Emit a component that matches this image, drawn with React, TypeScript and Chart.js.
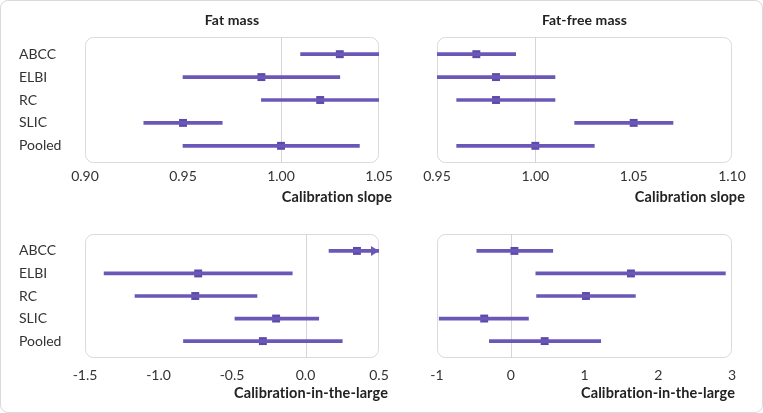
import React, { useEffect, useRef } from "react";
import { Chart, registerables } from "chart.js";

Chart.register(...registerables);

const categories = ["ABCC", "ELBI", "RC", "SLIC", "Pooled"];

const fatSlopeEst = [1.03, 0.99, 1.02, 0.95, 1.0];
const fatSlopeLow = [1.01, 0.95, 0.99, 0.93, 0.95];
const fatSlopeHigh = [1.05, 1.03, 1.05, 0.97, 1.04];

const ffSlopeEst = [0.97, 0.98, 0.98, 1.05, 1.0];
const ffSlopeLow = [0.95, 0.95, 0.96, 1.02, 0.96];
const ffSlopeHigh = [0.99, 1.01, 1.01, 1.07, 1.03];

const fatCitlEst = [0.35, -0.73, -0.75, -0.2, -0.29];
const fatCitlLow = [0.16, -1.37, -1.16, -0.48, -0.83];
const fatCitlHigh = [0.6, -0.09, -0.33, 0.09, 0.25];

const ffCitlEst = [0.05, 1.63, 1.02, -0.36, 0.46];
const ffCitlLow = [-0.46, 0.34, 0.35, -0.97, -0.29];
const ffCitlHigh = [0.57, 2.91, 1.69, 0.24, 1.22];

const fatSlopeTicks = [0.9, 0.95, 1.0, 1.05];
const ffSlopeTicks = [0.95, 1.0, 1.05, 1.1];
const fatCitlTicks = [-1.5, -1.0, -0.5, 0.0, 0.5];
const ffCitlTicks = [-1, 0, 1, 2, 3];

const LINE = "#6b58b6";
const MARK = "#5d49a9";
const BOX = "#d9d9de";
const REF = "#d4d4da";
const FONT = "Lato, 'Open Sans', sans-serif";

type PanelCfg = {
  x: number; y: number; w: number; h: number;
  area: { l: number; t: number; r: number; b: number };
  title?: string; titleY?: number;
  axisTitle: string; axisRight: number; axisY: number;
  tickPad: number; showLabels: boolean; ref: number;
  ticks: number[]; decimals: number;
  est: number[]; low: number[]; high: number[];
};

const panels: PanelCfg[] = [
  {
    x: 0, y: 0, w: 400, h: 210, area: { l: 85, t: 37, r: 379, b: 163 },
    title: "Fat mass", titleY: 20, axisTitle: "Calibration slope", axisRight: 392, axisY: 197,
    tickPad: 5, showLabels: true, ref: 1, ticks: fatSlopeTicks, decimals: 2,
    est: fatSlopeEst, low: fatSlopeLow, high: fatSlopeHigh,
  },
  {
    x: 400, y: 0, w: 363, h: 210, area: { l: 437, t: 37, r: 732, b: 163 },
    title: "Fat-free mass", titleY: 20, axisTitle: "Calibration slope", axisRight: 745, axisY: 197,
    tickPad: 5, showLabels: false, ref: 1, ticks: ffSlopeTicks, decimals: 2,
    est: ffSlopeEst, low: ffSlopeLow, high: ffSlopeHigh,
  },
  {
    x: 0, y: 210, w: 400, h: 203, area: { l: 85, t: 234, r: 379, b: 358 },
    axisTitle: "Calibration-in-the-large", axisRight: 388, axisY: 393,
    tickPad: 9, showLabels: true, ref: 0, ticks: fatCitlTicks, decimals: 1,
    est: fatCitlEst, low: fatCitlLow, high: fatCitlHigh,
  },
  {
    x: 400, y: 210, w: 363, h: 203, area: { l: 437, t: 234, r: 732, b: 358 },
    axisTitle: "Calibration-in-the-large", axisRight: 735, axisY: 393,
    tickPad: 9, showLabels: false, ref: 0, ticks: ffCitlTicks, decimals: 0,
    est: ffCitlEst, low: ffCitlLow, high: ffCitlHigh,
  },
];

function Panel({ cfg }: { cfg: PanelCfg }) {
  const ref = useRef<HTMLCanvasElement | null>(null);
  useEffect(() => {
    if (!ref.current) return;
    const a = cfg.area;
    const padLeft = cfg.showLabels ? 19 - cfg.x : a.l - cfg.x;
    const xmin = cfg.ticks[0];
    const xmax = cfg.ticks[cfg.ticks.length - 1];

    const deco = {
      id: "deco",
      beforeDraw(chart: any) {
        const { ctx, chartArea: ca } = chart;
        ctx.save();
        ctx.strokeStyle = BOX;
        ctx.lineWidth = 1;
        ctx.beginPath();
        (ctx as any).roundRect(ca.left + 0.5, ca.top + 0.5, ca.right - ca.left - 1, ca.bottom - ca.top - 1, 8);
        ctx.stroke();
        const rx = Math.round(chart.scales.x.getPixelForValue(cfg.ref)) + 0.5;
        ctx.strokeStyle = REF;
        ctx.beginPath();
        ctx.moveTo(rx, ca.top);
        ctx.lineTo(rx, ca.bottom);
        ctx.stroke();
        ctx.restore();
      },
      afterDatasetsDraw(chart: any) {
        const { ctx, chartArea: ca } = chart;
        ctx.save();
        ctx.fillStyle = LINE;
        cfg.high.forEach((hv, i) => {
          if (hv > xmax) {
            const py = chart.scales.y.getPixelForValue(i);
            ctx.beginPath();
            ctx.moveTo(ca.right, py);
            ctx.lineTo(ca.right - 8, py - 5);
            ctx.lineTo(ca.right - 8, py + 5);
            ctx.closePath();
            ctx.fill();
          }
        });
        ctx.restore();
      },
      afterDraw(chart: any) {
        const { ctx, chartArea: ca } = chart;
        ctx.save();
        try { (ctx as any).letterSpacing = "0.1px"; } catch (e) {}
        ctx.fillStyle = "#222";
        ctx.textBaseline = "middle";
        if (cfg.title) {
          ctx.font = `bold 14px ${FONT}`;
          ctx.textAlign = "center";
          ctx.fillText(cfg.title, (ca.left + ca.right) / 2, cfg.titleY! - cfg.y);
        }
        ctx.font = `bold 14.5px ${FONT}`;
        ctx.textAlign = "right";
        ctx.fillText(cfg.axisTitle, cfg.axisRight - cfg.x, cfg.axisY - cfg.y);
        ctx.restore();
      },
    };

    const chart = new Chart(ref.current, {
      type: "bar",
      data: {
        datasets: [
          {
            type: "bar",
            indexAxis: "y",
            data: categories.map((_, i) => ({ x: [cfg.low[i], cfg.high[i]], y: i })) as any,
            backgroundColor: LINE,
            borderWidth: 0,
            barThickness: 3,
            grouped: false,
          } as any,
          {
            type: "scatter",
            data: categories.map((_, i) => ({ x: cfg.est[i], y: i })),
            pointStyle: "rect",
            pointRadius: 5.6,
            backgroundColor: MARK,
            borderWidth: 0,
          } as any,
        ],
      },
      options: {
        responsive: false,
        animation: false,
        indexAxis: "y",
        layout: {
          padding: { top: a.t - cfg.y, left: padLeft, right: cfg.x + cfg.w - a.r, bottom: 0 },
        },
        plugins: { legend: { display: false }, tooltip: { enabled: false }, title: { display: false } },
        scales: {
          x: {
            type: "linear",
            position: "bottom",
            min: xmin,
            max: xmax,
            offset: false,
            grid: { display: false, drawTicks: false },
            border: { display: false },
            afterBuildTicks: (s: any) => { s.ticks = cfg.ticks.map((v) => ({ value: v })); },
            afterFit: (s: any) => { s.height = cfg.y + cfg.h - a.b; },
            ticks: {
              padding: cfg.tickPad,
              color: "#333",
              font: { family: FONT, size: 14 },
              maxRotation: 0,
              autoSkip: false,
              callback: (v: any) => Number(v).toFixed(cfg.decimals),
            },
          },
          y: {
            type: "linear",
            display: cfg.showLabels,
            reverse: true,
            min: -0.75,
            max: 4.75,
            offset: false,
            grid: { display: false, drawTicks: false },
            border: { display: false },
            afterBuildTicks: (s: any) => { s.ticks = categories.map((_, i) => ({ value: i })); },
            afterFit: (s: any) => { if (cfg.showLabels) s.width = a.l - 19; },
            ticks: {
              crossAlign: "far",
              color: "#333",
              font: { family: FONT, size: 14 },
              autoSkip: false,
              callback: (v: any) => categories[Math.round(Number(v))] ?? "",
            },
          },
        },
      } as any,
      plugins: [deco],
    });
    return () => chart.destroy();
  }, [cfg]);
  return (
    <canvas
      ref={ref}
      width={cfg.w}
      height={cfg.h}
      style={{ position: "absolute", left: cfg.x, top: cfg.y, width: cfg.w, height: cfg.h }}
    />
  );
}

export default function App() {
  useEffect(() => {
    document.body.style.margin = "0";
  }, []);
  return (
    <div style={{ position: "relative", width: 763, height: 413, background: "#fff", fontFamily: FONT }}>
      <div
        style={{
          position: "absolute", left: 0, top: 0, width: 761, height: 411,
          border: `1px solid ${BOX}`, borderRadius: 8, boxSizing: "content-box",
        }}
      />
      {panels.map((p, i) => (
        <Panel key={i} cfg={p} />
      ))}
    </div>
  );
}
